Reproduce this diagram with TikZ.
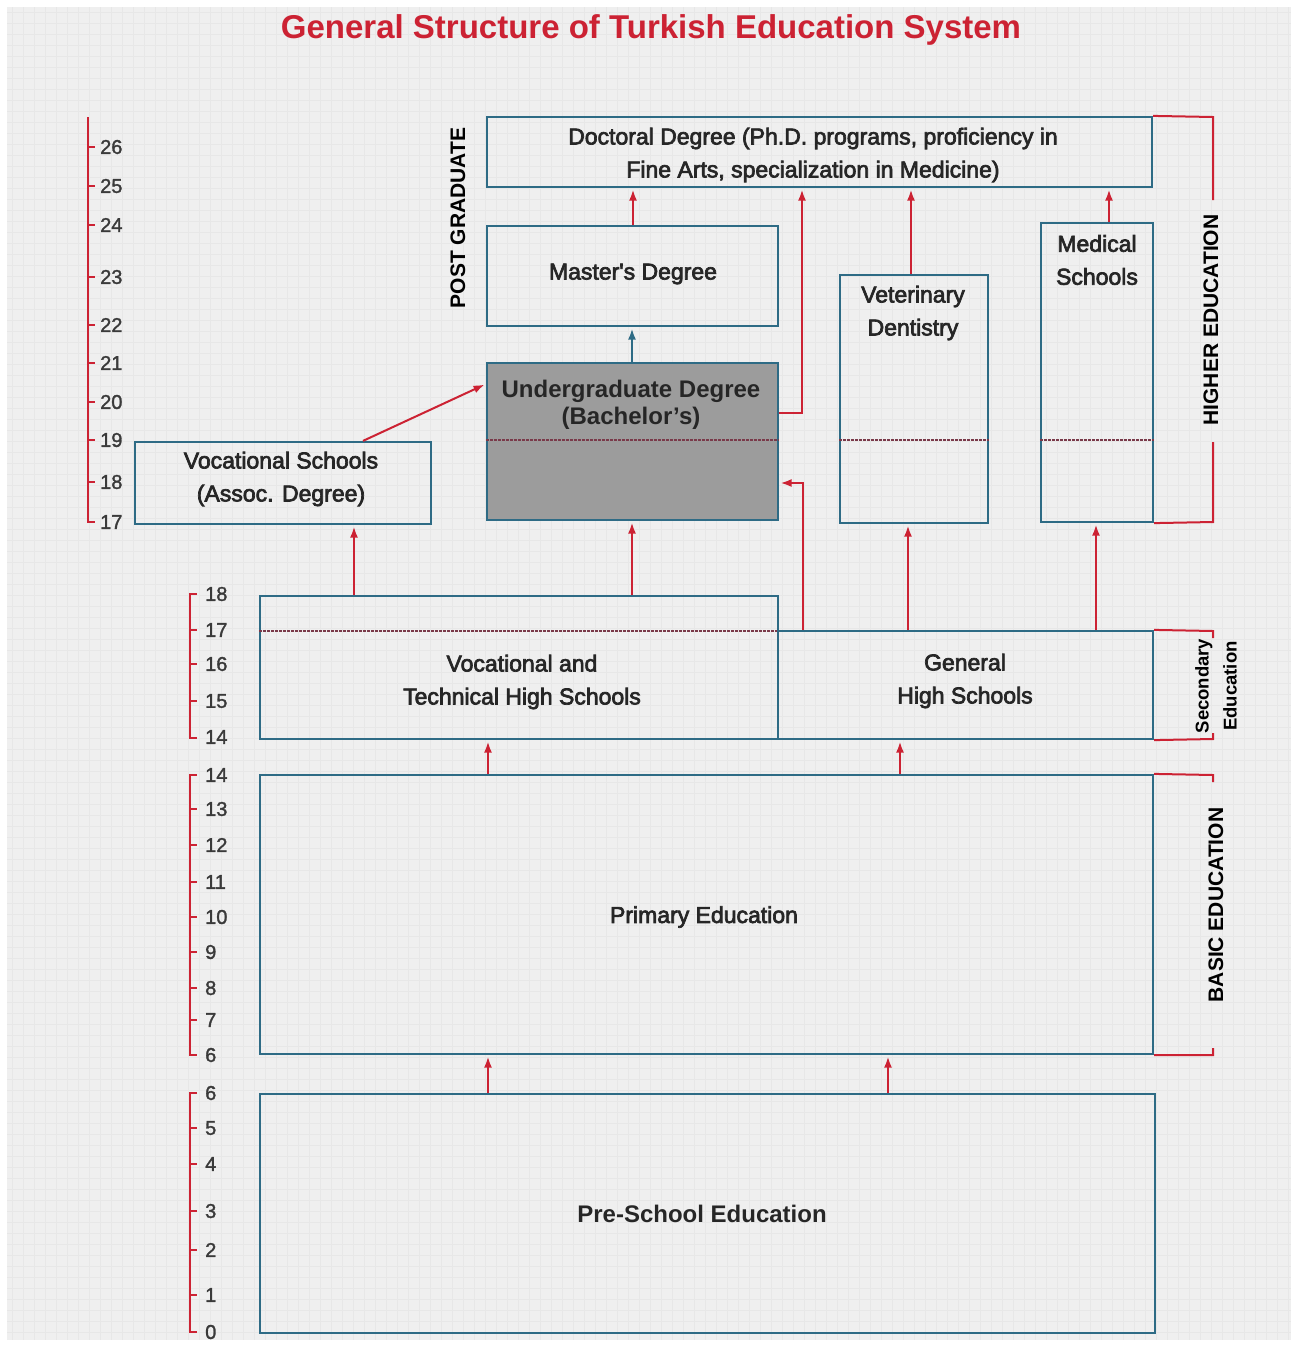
\documentclass[tikz,border=0pt]{standalone}
\usepackage{fontspec}
\setmainfont{Liberation Sans}
\newfontfamily\boxfont{Liberation Sans}[FakeBold=3]
\newfontfamily\numfont{Liberation Sans}[FakeBold=1.5]
\usetikzlibrary{arrows.meta}
\definecolor{rd}{HTML}{CC2233}
\definecolor{bl}{HTML}{2E6B85}
\definecolor{bgc}{HTML}{EFEFEF}
\definecolor{gridc}{HTML}{E7E7E7}
\definecolor{ugfill}{HTML}{9C9C9C}
\definecolor{txtc}{HTML}{262626}
\definecolor{dv}{HTML}{7A3A4A}
\definecolor{numc}{HTML}{3A3A3A}
\begin{document}
\begin{tikzpicture}[x=1pt,y=-1pt,
  box/.style={draw=bl,line width=2.2pt,inner sep=0pt,rectangle},
  txt/.style={font=\boxfont\fontsize{23}{33}\selectfont,text=txtc,align=center,inner sep=0pt},
  btxt/.style={font=\bfseries\fontsize{24}{27}\selectfont,text=txtc,align=center,inner sep=0pt},
  arr/.style={draw=rd,line width=2pt,-{Latex[length=11pt,width=8pt]},shorten >=1.5pt},
  barr/.style={draw=bl,line width=2pt,-{Latex[length=11pt,width=8pt]},shorten >=1.5pt},
  rline/.style={draw=rd,line width=2pt},
  divl/.style={draw=dv,line width=1.6pt,dash pattern=on 3pt off 1pt},
  scl/.style={font=\numfont\fontsize{20}{20}\selectfont,text=numc,anchor=west,inner sep=0pt},
  vlab/.style={font=\bfseries\fontsize{21}{21}\selectfont,rotate=90,text=black,inner sep=0pt}]
\useasboundingbox (0,0) rectangle (1298,1345);
\fill[white] (0,0) rectangle (1298,1345);
\fill[bgc] (7,7) rectangle (1291,1340);
\foreach \gx in {12,23,...,1290}{\draw[gridc,line width=0.6pt] (\gx,7) -- (\gx,1340);}
\foreach \gy in {12,23,...,1339}{\draw[gridc,line width=0.6pt] (7,\gy) -- (1291,\gy);}

% title
\node[font=\bfseries\fontsize{33}{33}\selectfont,text=rd,inner sep=0pt] (title) at (651,30) {General Structure of Turkish Education System};

% boxes
\node[box,minimum width=665pt,minimum height=70pt] (doct) at (819.5,152) {};
\node[txt] (doctt) at (813,155) {Doctoral Degree (Ph.D. programs, proficiency in\\Fine Arts, specialization in Medicine)};
\node[box,minimum width=291pt,minimum height=100pt] (mast) at (632.5,276) {};
\node[txt] (mastt) at (633,274) {Master's Degree};
\node[box,fill=ugfill,minimum width=291pt,minimum height=157pt] (ug) at (632.5,441.5) {};
\draw[divl] (ug.west |- 0,440) -- (ug.east |- 0,440);
\node[btxt] (ugt) at (631,405) {Undergraduate Degree\\(Bachelor's)};
\node[box,minimum width=296pt,minimum height=82pt] (vs) at (283,483) {};
\node[txt] (vst) at (281,479) {Vocational Schools\\(Assoc. Degree)};
\node[box,minimum width=148pt,minimum height=248pt] (vet) at (914,399) {};
\draw[divl] (vet.west |- 0,440) -- (vet.east |- 0,440);
\node[txt] (vett) at (913,313) {Veterinary\\Dentistry};
\node[box,minimum width=112pt,minimum height=299pt] (med) at (1097,372.5) {};
\draw[divl] (med.west |- 0,440) -- (med.east |- 0,440);
\node[txt] (medt) at (1097,260) {Medical\\Schools};
\node[box,minimum width=518pt,minimum height=143pt] (vths) at (519,667.5) {};
\draw[divl] (vths.west |- 0,631) -- (vths.east |- 0,631);
\node[txt] (vthst) at (522,682) {Vocational and\\Technical High Schools};
\node[box,minimum width=375pt,minimum height=108pt] (ghs) at (965.5,685) {};
\node[txt] (ghst) at (965,681) {General\\High Schools};
\node[box,minimum width=893pt,minimum height=279pt] (prim) at (706.5,914.5) {};
\node[txt] (primt) at (704,917) {Primary Education};
\node[box,minimum width=895pt,minimum height=239pt] (pre) at (707.5,1213.5) {};
\node[btxt] (pret) at (702,1214) {Pre-School Education};

% helper coordinates
\coordinate (x354) at (354,0);
\coordinate (x363) at (363,0);
\coordinate (x488) at (488,0);
\coordinate (x632) at (632,0);
\coordinate (x633) at (633,0);
\coordinate (x888) at (888,0);
\coordinate (x900) at (900,0);
\coordinate (x908) at (908,0);
\coordinate (x911) at (911,0);
\coordinate (x1096) at (1096,0);
\coordinate (x1109) at (1109,0);
\coordinate (y384) at (0,384);
\coordinate (c1) at (802,413);
\coordinate (c2) at (803,483);

% arrows
\draw[arr] (x633 |- mast.north) -- (x633 |- doct.south);
\draw[barr] (x632 |- ug.north) -- (x632 |- mast.south);
\draw[arr] (ug.east |- c1) -- (c1) -- (c1 |- doct.south);
\draw[arr] (x911 |- vet.north) -- (x911 |- doct.south);
\draw[arr] (x1109 |- med.north) -- (x1109 |- doct.south);
\draw[arr] (x363 |- vs.north) -- (ug.west |- y384);
\draw[arr] (x354 |- vths.north) -- (x354 |- vs.south);
\draw[arr] (x632 |- vths.north) -- (x632 |- ug.south);
\draw[arr] (c2 |- ghs.north) -- (c2) -- (ug.east |- c2);
\draw[arr] (x908 |- ghs.north) -- (x908 |- vet.south);
\draw[arr] (x1096 |- ghs.north) -- (x1096 |- med.south);
\draw[arr] (x488 |- prim.north) -- (x488 |- vths.south);
\draw[arr] (x900 |- prim.north) -- (x900 |- ghs.south);
\draw[arr] (x488 |- pre.north) -- (x488 |- prim.south);
\draw[arr] (x888 |- pre.north) -- (x888 |- prim.south);

% right brackets and labels
\draw[rline] (doct.north east) -- (1213,117) -- (1213,200);
\draw[rline] (1213,442) -- (1213,522) -- (med.south east);
\node[vlab] (he) at (1211,320) {HIGHER EDUCATION};
\node[vlab] (pg) at (458,218) {POST GRADUATE};
\draw[rline] (ghs.north east) -- (1213,631) -- (1213,638);
\draw[rline] (1213,733) -- (1213,739) -- (ghs.south east);
\node[rotate=90,font=\bfseries\fontsize{18.5}{28}\selectfont,align=center,text=black,inner sep=0pt] (sec) at (1216,686) {Secondary\\Education};
\draw[rline] (prim.north east) -- (1213,775) -- (1213,782);
\draw[rline] (1213,1048) -- (1213,1055) -- (prim.south east);
\node[vlab] (be) at (1216,905) {BASIC EDUCATION};

% left scales
\draw[rline] (88,117) -- (88,522) -- (95,522);
\foreach \y/\n in {147/26,186/25,225/24,277/23,325/22,363/21,402/20,440/19,482/18}{
  \draw[rline] (88,\y) -- (95,\y);
  \node[scl] (s1-\n) at (100,\y) {\n};
}
\node[scl] (s1-17) at (100,522) {17};

\draw[rline] (197,594) -- (190,594) -- (190,738) -- (197,738);
\foreach \y/\n in {630/17,664/16,701/15}{
  \draw[rline] (190,\y) -- (197,\y);
  \node[scl] (s2-\n) at (205,\y) {\n};
}
\node[scl] (s2-18) at (205,594) {18};
\node[scl] (s2-14) at (205,737) {14};

\draw[rline] (197,775) -- (190,775) -- (190,1055) -- (197,1055);
\foreach \y/\n in {809/13,845/12,882/11,917/10,952/9,988/8,1020/7}{
  \draw[rline] (190,\y) -- (197,\y);
  \node[scl] (s3-\n) at (205,\y) {\n};
}
\node[scl] (s3-14) at (205,775) {14};
\node[scl] (s3-6) at (205,1055) {6};

\draw[rline] (197,1093) -- (190,1093) -- (190,1332) -- (197,1332);
\foreach \y/\n in {1128/5,1164/4,1211/3,1250/2,1295/1}{
  \draw[rline] (190,\y) -- (197,\y);
  \node[scl] (s4-\n) at (205,\y) {\n};
}
\node[scl] (s4-6) at (205,1093) {6};
\node[scl] (s4-0) at (205,1332) {0};
\end{tikzpicture}
\end{document}
